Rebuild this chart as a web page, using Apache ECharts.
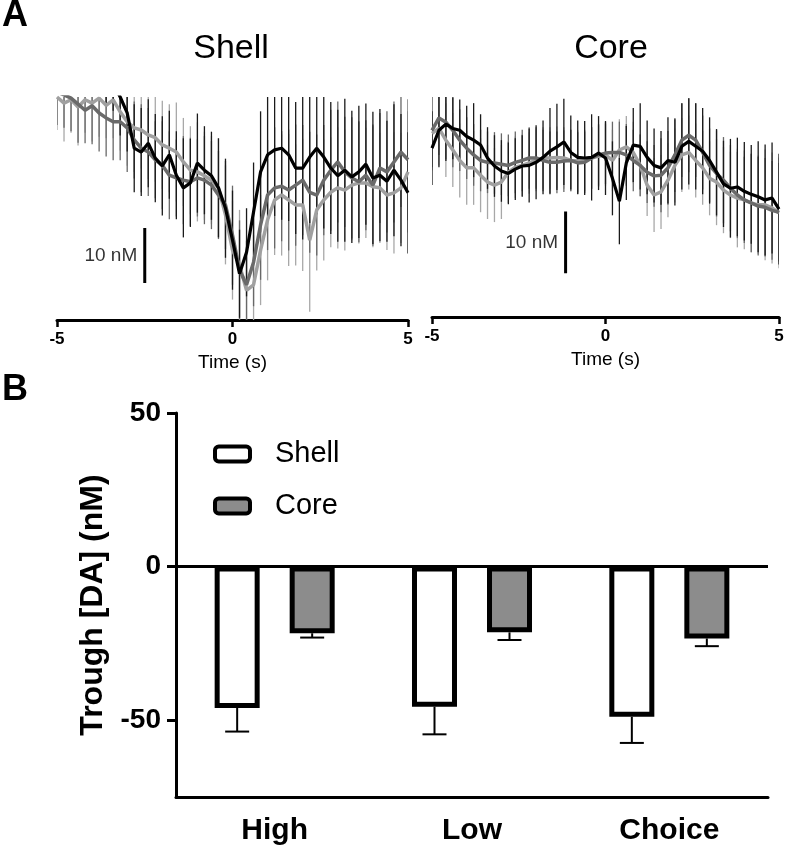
<!DOCTYPE html>
<html>
<head>
<meta charset="utf-8">
<script src="https://cdn.jsdelivr.net/npm/echarts@6/dist/echarts.min.js"></script>
<style>
  html, body { margin: 0; padding: 0; background: #fff; }
  #main { width: 788px; height: 848px; }
</style>
</head>
<body>
<div id="main"></div>
<script>
// time base (s) for the traces in panel A
var times = [-5, -4.8, -4.6, -4.4, -4.2, -4, -3.8, -3.6, -3.4, -3.2, -3, -2.8, -2.6, -2.4, -2.2, -2, -1.8, -1.6, -1.4, -1.2, -1, -0.8, -0.6, -0.4, -0.2,
  0, 0.2, 0.4, 0.6, 0.8, 1, 1.2, 1.4, 1.6, 1.8, 2, 2.2, 2.4, 2.6, 2.8, 3, 3.2, 3.4, 3.6, 3.8, 4, 4.2, 4.4, 4.6, 4.8, 5];

// Shell traces (nM, relative)
var shellBlack = [31, 31, 31, 30, 30, 30, 29, 28, 27,
  24.5, 21.6, 15.2, 14.5, 16.1, 13.4, 12.0, 14.0, 10.3, 8.0, 8.9, 12.5, 11.2, 10.2, 8.0,
  4.3, -1.5, -7.6, -3.7, 3.6,
  10.9, 14.0, 14.9, 15.2, 14.0, 11.6, 11.6, 13.6, 15.2, 13.6, 11.6, 10.2, 11.2, 10.0, 10.9, 12.3, 9.8, 10.3, 9.2, 11.2, 9.4, 7.1];
var shellBlackErr = [5, 5, 5, 5, 5, 5, 5, 5, 5,
  7, 7, 8, 8, 8, 8, 9, 8, 8, 9, 8, 9, 8, 8, 9,
  9, 9, 8, 8, 9,
  11, 12, 12, 13, 12, 12, 13, 12, 12, 13, 12, 12, 13, 12, 12, 11, 12, 12, 11, 12, 12, 11];
var shellDark = [25.4, 24.9, 24.3, 23.2, 22.1, 22.9, 21.6, 20.7, 20.0,
  20.0, 18.9, 16.7, 15.2, 14.5, 13.1, 12.1, 10.3, 9.8, 9.4, 9.1, 9.8, 9.4, 8.5, 6.7,
  4.9, -0.6, -6.9, -9.6, -5.5,
  1.3, 6.7, 8.0, 8.3, 7.6, 8.5, 9.4, 7.2, 6.7, 9.4, 11.2, 12.7, 10.9, 9.8, 9.1, 10.3, 8.5, 11.6, 10.9, 12.7, 14.5, 13.1];
var shellDarkErr = [6, 6, 6, 7, 6, 7, 7, 7, 7, 7, 8, 7, 8, 8, 7, 8, 8, 7, 8, 8, 7, 8, 8, 8,
  8, 9, 9, 8, 8,
  10, 10, 11, 10, 11, 11, 10, 11, 11, 10, 11, 11, 10, 11, 11, 10, 11, 10, 11, 11, 10, 11];
var shellLight = [24.5, 23.4, 24.0, 22.7, 24.0, 23.4, 24.3, 23.0, 24.0,
  21.8, 20.0, 18.9, 18.5, 17.6, 17.1, 15.8, 15.2, 14.5, 12.7, 11.2, 10.9, 10.2, 9.4, 8.0,
  3.1, -3.3, -6.0, -10.6, -9.6,
  -3.3, 2.2, 5.8, 6.7, 5.8, 4.9, 4.9, -1.5, 4.0, 5.8, 7.2, 8.0, 7.6, 8.5, 8.9, 8.9, 8.2, 8.0, 6.7, 7.1, 8.0, 10.9];
var shellLightErr = [6, 7, 6, 7, 6, 7, 7, 6, 7, 7, 8, 8, 7, 8, 8, 8, 8, 9, 8, 8, 9, 8, 8, 9,
  9, 9, 10, 9, 9,
  10, 11, 10, 11, 12, 11, 12, 13, 11, 11, 10, 11, 11, 10, 11, 10, 11, 10, 10, 11, 10, 11];
var shellScaleBar = [[-2.5, -9.3], [-2.5, 0.7]];

// Core traces (nM, relative)
var coreBlack = [7.4, 10.3, 11.3, 10.6, 10.3, 9.3, 8.7, 7.9, 5.8, 4.5, 3.7,
  3.3, 4.0, 4.5, 4.6, 5.1, 5.9, 6.9, 7.6, 8.4, 6.7, 5.9, 5.8, 5.9, 6.6,
  5.8, 2.5, -1.2, 5.0, 7.9, 7.7,
  5.9, 4.6, 4.2, 5.4, 5.1, 7.7, 8.5, 7.7, 6.9, 5.4,
  3.5, 1.6, 0.9, 1.1, 0.4, -0.1, -0.5, -1.0, -0.7, -2.5];
var coreBlackErr = [6, 6, 6, 5, 5, 5, 6, 5, 5, 5, 5,
  5, 5, 5, 6, 6, 6, 7, 7, 7, 6, 6, 6, 7, 6,
  6, 6, 7, 6, 6, 7,
  6, 6, 6, 7, 7, 7, 7, 7, 7, 7,
  7, 7, 8, 8, 8, 8, 9, 9, 9, 9];
var coreDark = [10.3, 12.3, 11.6, 10.3, 8.7, 7.4, 6.3, 5.4, 5.1, 5.0, 4.8,
  4.6, 5.1, 5.4, 5.8, 5.8, 5.4, 5.1, 5.1, 5.3, 5.4, 5.0, 5.1, 5.8, 6.3,
  6.6, 6.7, 6.7, 6.3, 5.4, 4.6,
  3.5, 2.9, 3.0, 4.2, 6.3, 8.7, 9.5, 8.7, 6.7, 4.6,
  3.3, 2.2, 0.9, -0.2, -1.0, -1.5, -2.0, -2.2, -2.7, -3.0];
var coreDarkErr = [6, 6, 6, 6, 5, 5, 5, 5, 5, 5, 5,
  5, 5, 5, 5, 5, 5, 5, 5, 5, 5, 5, 5, 5, 5,
  5, 5, 5, 5, 5, 5,
  5, 5, 6, 6, 6, 6, 6, 6, 6, 6,
  7, 7, 7, 7, 7, 8, 8, 8, 8, 8];
var coreLight = [9.8, 10.6, 8.7, 7.1, 5.4, 4.2, 4.2, 3.0, 1.9, 1.4, 1.9,
  3.5, 4.3, 4.6, 5.0, 5.4, 5.8, 5.8, 5.9, 5.8, 5.4, 5.3, 5.4, 5.8, 6.1,
  6.3, 5.4, 7.1, 7.6, 6.7, 4.6,
  1.4, -0.2, 0.3, 2.2, 4.6, 6.3, 6.7, 5.4, 4.2, 2.5,
  1.9, 0.6, -0.2, -0.7, -1.0, -1.5, -1.8, -1.8, -2.3, -3.1];
var coreLightErr = [6, 6, 6, 6, 6, 6, 6, 6, 6, 6, 6,
  5, 5, 5, 5, 5, 5, 5, 5, 5, 5, 5, 5, 5, 5,
  5, 5, 5, 5, 5, 5,
  5, 6, 6, 6, 6, 6, 6, 6, 6, 6,
  7, 7, 7, 8, 8, 8, 8, 9, 9, 9];
var coreScaleBar = [[-1.15, -12.9], [-1.15, -2.9]];

// panel B
var categories = ['High', 'Low', 'Choice'];
var shellMeans = [-46.0, -45.6, -48.9];
var shellSem = [7.7, 9.0, 8.5];
var coreMeans = [-21.7, -21.4, -23.4];
var coreSem = [1.4, 2.5, 2.5];

var FONT = "'Liberation Sans', Arial, sans-serif";
var BAR_W = 45;
var BAR_OFFSET = 37.5;

var chart = echarts.init(document.getElementById('main'));

function pack(vals, errs) {
  return times.map(function (t, i) { return [t, vals[i], errs[i]]; });
}

function traceErr(name, idx, color, vals, errs) {
  return {
    name: name + '-err',
    type: 'custom',
    xAxisIndex: idx, yAxisIndex: idx,
    clip: true,
    silent: true,
    itemStyle: { color: color },
    renderItem: function (params, api) {
      var t = api.value(0), v = api.value(1), e = api.value(2);
      var p1 = api.coord([t, v - e]);
      var p2 = api.coord([t, v + e]);
      return {
        type: 'line',
        shape: { x1: p1[0], y1: p1[1], x2: p2[0], y2: p2[1] },
        style: { stroke: api.visual('color'), lineWidth: 1.3 }
      };
    },
    data: pack(vals, errs)
  };
}

function traceLine(name, idx, color, vals, width) {
  return {
    name: name,
    type: 'line',
    xAxisIndex: idx, yAxisIndex: idx,
    clip: true,
    silent: true,
    symbol: 'none',
    lineStyle: { color: color, width: width },
    data: times.map(function (t, i) { return [t, vals[i]]; })
  };
}

function scaleBar(idx, bar) {
  return {
    type: 'line',
    xAxisIndex: idx, yAxisIndex: idx,
    symbol: 'none',
    silent: true,
    lineStyle: { color: '#000', width: 3 },
    data: bar
  };
}

// "10 nM" text sits beside the middle of the scale bar
function scaleLabel(idx, bar) {
  return {
    type: 'scatter',
    xAxisIndex: idx, yAxisIndex: idx,
    silent: true,
    symbolSize: 1,
    itemStyle: { color: 'rgba(0,0,0,0)' },
    label: { show: true, position: 'left', distance: 7, formatter: '10 nM', fontSize: 19, color: '#000', fontFamily: FONT },
    data: [[bar[0][0], (bar[0][1] + bar[1][1]) / 2]]
  };
}

function barErr(offset, means, sems) {
  return {
    type: 'custom',
    xAxisIndex: 2, yAxisIndex: 2,
    silent: true,
    z: 5,
    renderItem: function (params, api) {
      var m = api.value(1), e = api.value(2);
      var top = api.coord([api.value(0), m]);
      var bot = api.coord([api.value(0), m - e]);
      var x = top[0] + offset;
      return {
        type: 'group',
        children: [
          { type: 'line', shape: { x1: x, y1: top[1], x2: x, y2: bot[1] }, style: { stroke: '#000', lineWidth: 2 } },
          { type: 'line', shape: { x1: x - 12, y1: bot[1], x2: x + 12, y2: bot[1] }, style: { stroke: '#000', lineWidth: 2 } }
        ]
      };
    },
    data: categories.map(function (c, i) { return [i, means[i], sems[i]]; })
  };
}

function timeAxis(idx) {
  return {
    type: 'value', gridIndex: idx,
    min: -5, max: 5, interval: 5,
    name: 'Time (s)', nameLocation: 'middle', nameGap: 33,
    nameTextStyle: { fontSize: 19, color: '#000', fontFamily: FONT },
    axisLine: { onZero: false, lineStyle: { color: '#000', width: 3 } },
    axisTick: { length: 7, lineStyle: { color: '#000', width: 2.5 } },
    axisLabel: { margin: 11, fontSize: 17, fontWeight: 'bold', color: '#000', fontFamily: FONT },
    splitLine: { show: false }
  };
}

var option = {
  backgroundColor: '#fff',
  animation: false,
  title: [
    { text: 'A', left: 2, top: -2, padding: 0, textStyle: { fontSize: 36, fontWeight: 'bold', color: '#000', fontFamily: FONT } },
    { text: 'B', left: 2, top: 372, padding: 0, textStyle: { fontSize: 36, fontWeight: 'bold', color: '#000', fontFamily: FONT } },
    { text: 'Shell', left: 231, top: 32, padding: 0, textAlign: 'center', textStyle: { fontSize: 34, fontWeight: 'normal', color: '#000', fontFamily: FONT } },
    { text: 'Core', left: 611, top: 32, padding: 0, textAlign: 'center', textStyle: { fontSize: 34, fontWeight: 'normal', color: '#000', fontFamily: FONT } }
  ],
  legend: {
    data: ['Shell', 'Core'],
    orient: 'vertical',
    left: 213, top: 439,
    padding: 0,
    itemWidth: 35, itemHeight: 15,
    itemGap: 22,
    icon: 'roundRect',
    selectedMode: false,
    itemStyle: { borderColor: '#000', borderWidth: 4 },
    textStyle: { fontSize: 29, color: '#000', fontFamily: FONT, lineHeight: 30, padding: [0, 0, 0, 20] }
  },
  grid: [
    { left: 57, width: 351, top: 97, height: 223 },
    { left: 432, width: 347, top: 97, height: 220 },
    { left: 176, right: 20, top: 413, bottom: 51 }
  ],
  xAxis: [
    timeAxis(0),
    timeAxis(1),
    {
      type: 'category', gridIndex: 2, data: categories,
      axisLine: { onZero: false, lineStyle: { color: '#000', width: 3 } },
      axisTick: { alignWithLabel: true, length: 9, lineStyle: { color: '#000', width: 3 } },
      axisLabel: { margin: 19, fontSize: 30, fontWeight: 'bold', color: '#000', fontFamily: FONT }
    }
  ],
  yAxis: [
    { type: 'value', gridIndex: 0, min: -16, max: 24.5, show: false, splitLine: { show: false } },
    { type: 'value', gridIndex: 1, min: -20, max: 15.7, show: false, splitLine: { show: false } },
    {
      type: 'value', gridIndex: 2, min: -75, max: 50,
      name: 'Trough [DA] (nM)', nameLocation: 'middle', nameGap: 64, nameRotate: 90,
      nameTextStyle: { fontSize: 32, fontWeight: 'bold', color: '#000', fontFamily: FONT },
      axisLine: { show: true, lineStyle: { color: '#000', width: 3 } },
      axisTick: { show: true, length: 9, customValues: [-50, 0, 50], lineStyle: { color: '#000', width: 3 } },
      axisLabel: { margin: 15, fontSize: 28, fontWeight: 'bold', color: '#000', fontFamily: FONT, customValues: [-50, 0, 50] },
      splitLine: { show: false }
    }
  ],
  series: [
    traceErr('shell-light', 0, '#a8a8a8', shellLight, shellLightErr),
    traceErr('shell-dark', 0, '#686868', shellDark, shellDarkErr),
    traceErr('shell-black', 0, '#1a1a1a', shellBlack, shellBlackErr),
    traceLine('shell-light', 0, '#a0a0a0', shellLight, 3.5),
    traceLine('shell-dark', 0, '#6a6a6a', shellDark, 3.5),
    traceLine('shell-black', 0, '#000', shellBlack, 3.2),
    scaleBar(0, shellScaleBar),
    scaleLabel(0, shellScaleBar),

    traceErr('core-light', 1, '#a8a8a8', coreLight, coreLightErr),
    traceErr('core-dark', 1, '#686868', coreDark, coreDarkErr),
    traceErr('core-black', 1, '#1a1a1a', coreBlack, coreBlackErr),
    traceLine('core-light', 1, '#a0a0a0', coreLight, 3.5),
    traceLine('core-dark', 1, '#6a6a6a', coreDark, 3.5),
    traceLine('core-black', 1, '#000', coreBlack, 3.2),
    scaleBar(1, coreScaleBar),
    scaleLabel(1, coreScaleBar),

    {
      name: 'Shell', type: 'bar', xAxisIndex: 2, yAxisIndex: 2,
      barWidth: BAR_W, barGap: '66.7%',
      itemStyle: { color: '#fff', borderColor: '#000', borderWidth: 5 },
      data: shellMeans,
      markLine: {
        silent: true, symbol: 'none', label: { show: false },
        lineStyle: { color: '#000', width: 3, type: 'solid' },
        data: [{ yAxis: 0 }]
      }
    },
    {
      name: 'Core', type: 'bar', xAxisIndex: 2, yAxisIndex: 2,
      barWidth: BAR_W,
      itemStyle: { color: '#8c8c8c', borderColor: '#000', borderWidth: 5 },
      data: coreMeans
    },
    barErr(-BAR_OFFSET, shellMeans, shellSem),
    barErr(BAR_OFFSET, coreMeans, coreSem)
  ]
};

chart.setOption(option);
</script>
</body>
</html>
